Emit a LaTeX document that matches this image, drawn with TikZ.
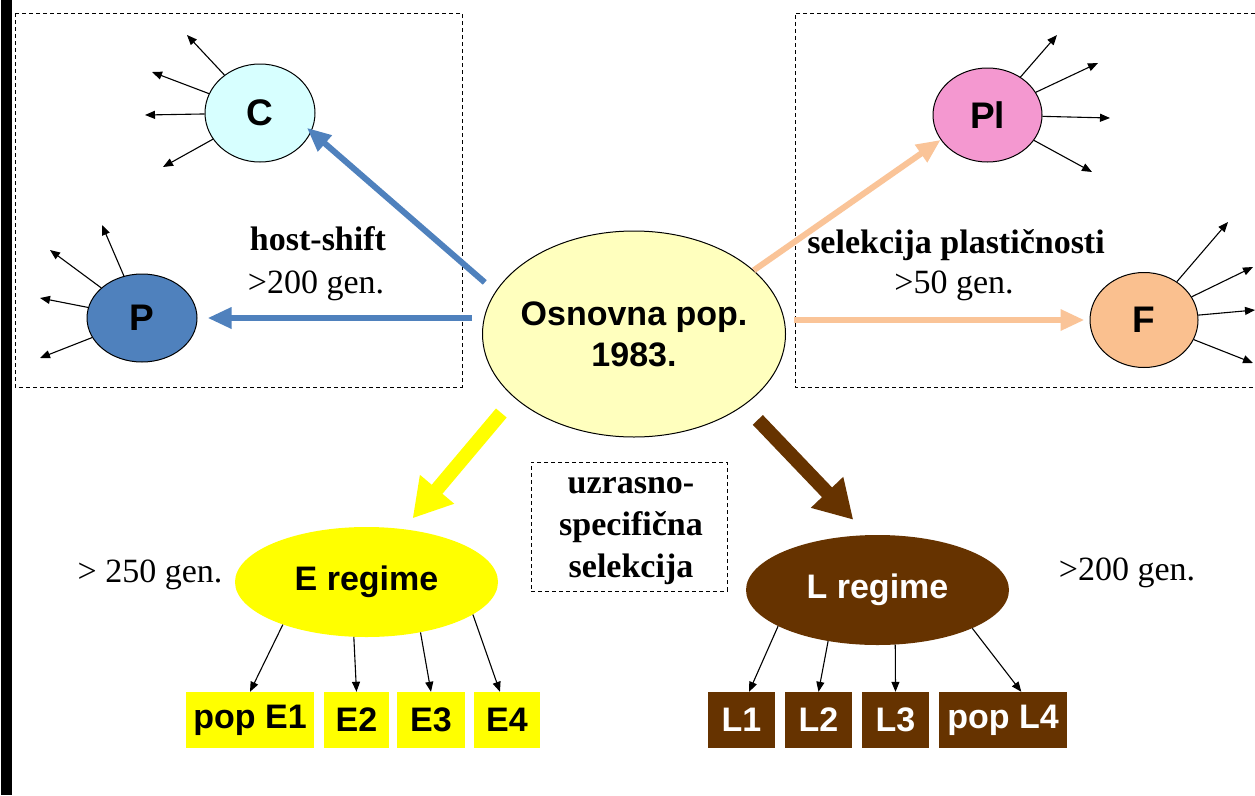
\documentclass[tikz,border=0pt]{standalone}
\usepackage{fontspec}
\setmainfont{Liberation Serif}
\setsansfont{Liberation Sans}
\usetikzlibrary{shapes.geometric,arrows.meta}
\definecolor{bluearr}{RGB}{79,129,189}
\definecolor{cfill}{RGB}{215,255,255}
\definecolor{pfill}{RGB}{79,129,189}
\definecolor{ofill}{RGB}{255,255,190}
\definecolor{orarr}{RGB}{250,196,152}
\definecolor{ffill}{RGB}{250,192,143}
\definecolor{plfill}{RGB}{244,152,208}
\definecolor{yel}{RGB}{255,255,0}
\definecolor{brn}{RGB}{102,51,0}
\begin{document}
\begin{tikzpicture}[x=1pt,y=-1pt,
  sans/.style={font=\sffamily\bfseries\fontsize{34}{41}\selectfont},
  bigsans/.style={font=\sffamily\bfseries\fontsize{37}{44}\selectfont},
  serb/.style={font=\bfseries\fontsize{34}{41}\selectfont, inner sep=0pt},
  serr/.style={font=\fontsize{34}{41}\selectfont, inner sep=0pt},
  popell/.style={ellipse, draw=black, line width=1pt, inner sep=0pt, bigsans},
  regime/.style={ellipse, inner sep=0pt, sans},
  subbox/.style={rectangle, inner sep=0pt, minimum height=56pt, sans},
  sarrow/.style={draw=black, line width=1.1pt, -{Triangle[length=10pt,width=8pt]}},
  dashbox/.style={draw=black, line width=1pt, dash pattern=on 4pt off 3pt},
  bigarrow/.style={line width=6pt, -{Triangle[length=24pt,width=20pt]}},
  fatarrow/.style={line width=14pt, -{Triangle[length=38pt,width=42pt]}}]
\useasboundingbox (0,0) rectangle (1255,795);
\fill[white] (0,0) rectangle (1255,795);
\fill[black] (1,0) rectangle (12,795);

% dashed frames
\draw[dashbox] (15,13) rectangle (462,387);
\draw[dashbox] (1255,13) -- (795,13) -- (795,387) -- (1255,387);
\node[dashbox, minimum width=196pt, minimum height=129pt, inner sep=0pt] (U) at (629,526.5) {};

% main nodes
\node[popell, fill=ofill, minimum width=303pt, minimum height=206pt] (O) at (634,334) {};
\node[sans, align=center, inner sep=0pt] (Ot) at (O) {Osnovna pop.\\1983.};
\node[popell, fill=cfill, minimum width=110pt, minimum height=98pt] (C) at (260,113) {C};
\node[popell, fill=pfill, minimum width=110pt, minimum height=88pt] (P) at (142,318) {P};
\node[popell, fill=plfill, minimum width=109pt, minimum height=94pt] (Pl) at (987.5,115) {Pl};
\node[popell, fill=ffill, minimum width=108pt, minimum height=95pt] (F) at (1144,320) {F};
\node[regime, fill=yel, minimum width=263pt, minimum height=110pt] (E) at (366.5,582) {E regime};
\node[regime, fill=brn, text=white, minimum width=263pt, minimum height=110pt] (L) at (877.5,590) {L regime};

% boxes
\node[subbox, fill=yel, minimum width=128pt] (pE1) at (250,720) {pop E1};
\node[subbox, fill=yel, minimum width=65pt] (E2) at (356.5,720) {E2};
\node[subbox, fill=yel, minimum width=68pt] (E3) at (431,720) {E3};
\node[subbox, fill=yel, minimum width=66pt] (E4) at (507,720) {E4};
\node[subbox, fill=brn, text=white, minimum width=67pt] (L1) at (741.5,720) {L1};
\node[subbox, fill=brn, text=white, minimum width=67pt] (L2) at (818.5,720) {L2};
\node[subbox, fill=brn, text=white, minimum width=67pt] (L3) at (895.5,720) {L3};
\node[subbox, fill=brn, text=white, minimum width=128pt] (pL4) at (1003,720) {pop L4};

% labels
\node[serb, anchor=base] (hs) at (318,250) {host-shift};
\node[serr, anchor=base] (g200a) at (316,293) {>200 gen.};
\node[serb, anchor=base] (sp) at (956,253) {selekcija plastičnosti};
\node[serr, anchor=base] (g50) at (954,293) {>50 gen.};
\node[serr, anchor=base] (g250) at (150,582) {> 250 gen.};
\node[serr, anchor=base] (g200b) at (1127,580) {>200 gen.};
\node[serb, anchor=base] (u1) at (631,493) {uzrasno-};
\node[serb, anchor=base] (u2) at (631,535) {specifična};
\node[serb, anchor=base] (u3) at (631,577) {selekcija};

% big arrows
\draw[bigarrow, draw=bluearr, shorten <=14pt, shorten >=-6pt] (O.163) -- (C.-20);
\draw[bigarrow, draw=bluearr, shorten <=10pt, shorten >=10pt] (P.east -| O.west) -- (P.east);
\draw[bigarrow, draw=orarr] (O.28) -- (Pl.208);
\draw[bigarrow, draw=orarr, shorten <=8pt, shorten >=5pt] (F.west -| O.east) -- (F.west);
\draw[fatarrow, draw=yel, shorten <=20pt, shorten >=14pt] (O.208) -- (E.55);
\draw[fatarrow, draw=brn, shorten <=20pt, shorten >=21pt] (O.-33) -- (L.100);

% free ends of small arrows
\coordinate (c1) at (187,35);
\coordinate (c2) at (152,72);
\coordinate (c3) at (145,115);
\coordinate (c4) at (163,167);
\coordinate (p1) at (102,225);
\coordinate (p2) at (50,250);
\coordinate (p3) at (40,298);
\coordinate (p4) at (40,358);
\coordinate (q1) at (1057,35);
\coordinate (q2) at (1098,63);
\coordinate (q3) at (1110,118);
\coordinate (q4) at (1092,172);
\coordinate (f1) at (1228,222);
\coordinate (f2) at (1253,267);
\coordinate (f3) at (1255,310);
\coordinate (f4) at (1253,363);

\foreach \t in {c1,c2,c3,c4} \draw[sarrow] (C) -- (\t);
\foreach \t in {p1,p2,p3,p4} \draw[sarrow] (P) -- (\t);
\foreach \t in {q1,q2,q3,q4} \draw[sarrow] (Pl) -- (\t);
\foreach \t in {f1,f2,f3,f4} \draw[sarrow] (F) -- (\t);

\draw[sarrow] (E.207) -- (pE1.north);
\draw[sarrow] (E.257) -- (E2.north);
\draw[sarrow] (E.317) -- (E3.north);
\draw[sarrow] (E.343) -- (E4.104);
\draw[sarrow] (L.200) -- (L1.75);
\draw[sarrow] (L.226) -- (L2.north);
\draw[sarrow] (L.288) -- (L3.north);
\draw[sarrow] (L.338) -- (pL4.57);
\end{tikzpicture}
\end{document}
